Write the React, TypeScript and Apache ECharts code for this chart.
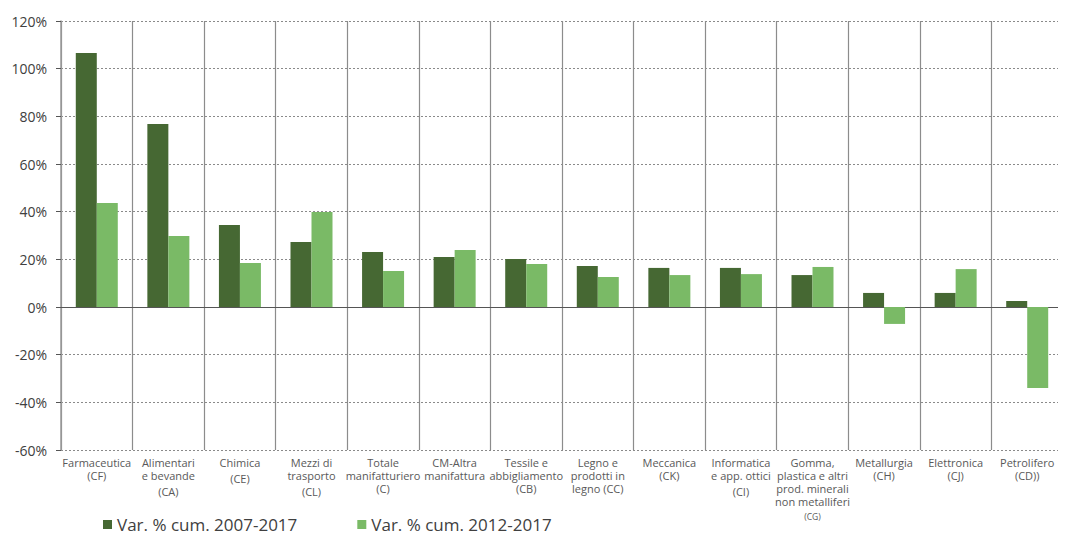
import React, { useEffect, useRef } from "react";
import * as echarts from "echarts";

const categories = [
  "Farmaceutica\n(CF)",
  "Alimentari\ne bevande\n{gap|}\n(CA)",
  "Chimica\n{gap|}\n(CE)",
  "Mezzi di\ntrasporto\n{gap|}\n(CL)",
  "Totale\nmanifatturiero\n(C)",
  "CM-Altra\nmanifattura",
  "Tessile e\nabbigliamento\n(CB)",
  "Legno e\nprodotti in\nlegno (CC)",
  "Meccanica\n(CK)",
  "Informatica\ne app. ottici\n{gap|}\n(CI)",
  "Gomma,\nplastica e altri\nprod. minerali\nnon metalliferi\n{small|(CG)}",
  "Metallurgia\n(CH)",
  "Elettronica\n(CJ)",
  "Petrolifero\n(CD))",
];

const series2007 = [106.6, 76.8, 34.4, 27.3, 23.1, 21.0, 20.1, 17.2, 16.4, 16.4, 13.4, 5.9, 5.9, 2.5];
const series2012 = [43.6, 29.8, 18.5, 39.9, 15.1, 23.9, 18.0, 12.6, 13.4, 13.8, 16.8, -7.1, 15.9, -34.0];

const seriesNames = ["Var. % cum. 2007-2017", "Var. % cum. 2012-2017"];
const yTicks = { min: -60, max: 120, interval: 20 };

const FONT = "'Open Sans', 'Noto Sans', sans-serif";

export default function App() {
  const ref = useRef<HTMLDivElement>(null);
  useEffect(() => {
    if (!ref.current) return;
    const chart = echarts.init(ref.current, null, { renderer: "svg" });
    chart.setOption({
      animation: false,
      textStyle: { fontFamily: FONT },
      grid: { left: 61, right: 3, top: 21, bottom: 90 },
      legend: {
        left: 98,
        bottom: 2,
        itemWidth: 9,
        itemHeight: 9,
        itemGap: 60,
        icon: "rect",
        textStyle: { fontSize: 17, color: "#404040", fontFamily: FONT },
        data: seriesNames,
      },
      xAxis: [
        {
          type: "category",
          data: categories,
          axisLine: { show: false, onZero: false },
          axisTick: { show: false },
          splitLine: { show: true, lineStyle: { color: "#8c8c8c", width: 1.2 } },
          axisLabel: {
            interval: 0,
            color: "#595959",
            fontSize: 11,
            lineHeight: 13,
            margin: 6,
            fontFamily: FONT,
            rich: {
              gap: { height: 3, lineHeight: 3, fontSize: 3 },
              small: { fontSize: 8.5, color: "#595959", lineHeight: 16 },
            },
          },
        },
        {
          type: "category",
          data: categories,
          position: "bottom",
          axisLine: { show: true, onZero: true, lineStyle: { color: "#555555", width: 1.2 } },
          axisTick: { show: false },
          axisLabel: { show: false },
          splitLine: { show: false },
        },
      ],
      yAxis: {
        type: "value",
        min: yTicks.min,
        max: yTicks.max,
        interval: yTicks.interval,
        axisLine: { show: true, lineStyle: { color: "#9a9a9a", width: 1.5 } },
        axisTick: { show: true, length: 5, lineStyle: { color: "#555" } },
        splitLine: { show: true, lineStyle: { color: "#8a8a8a", type: [2, 2], width: 1 } },
        axisLabel: {
          formatter: "{value}%",
          color: "#404040",
          fontSize: 14,
          margin: 14,
          fontFamily: FONT,
        },
      },
      series: [
        {
          name: seriesNames[0],
          type: "bar",
          data: series2007,
          barWidth: 21,
          barGap: "0%",
          itemStyle: { color: "#466833" },
        },
        {
          name: seriesNames[1],
          type: "bar",
          data: series2012,
          barWidth: 21,
          barGap: "0%",
          itemStyle: { color: "#7aba66" },
        },
      ],
    });
    return () => chart.dispose();
  }, []);
  return <div ref={ref} style={{ width: 1066, height: 540, margin: -8 }} />;
}
